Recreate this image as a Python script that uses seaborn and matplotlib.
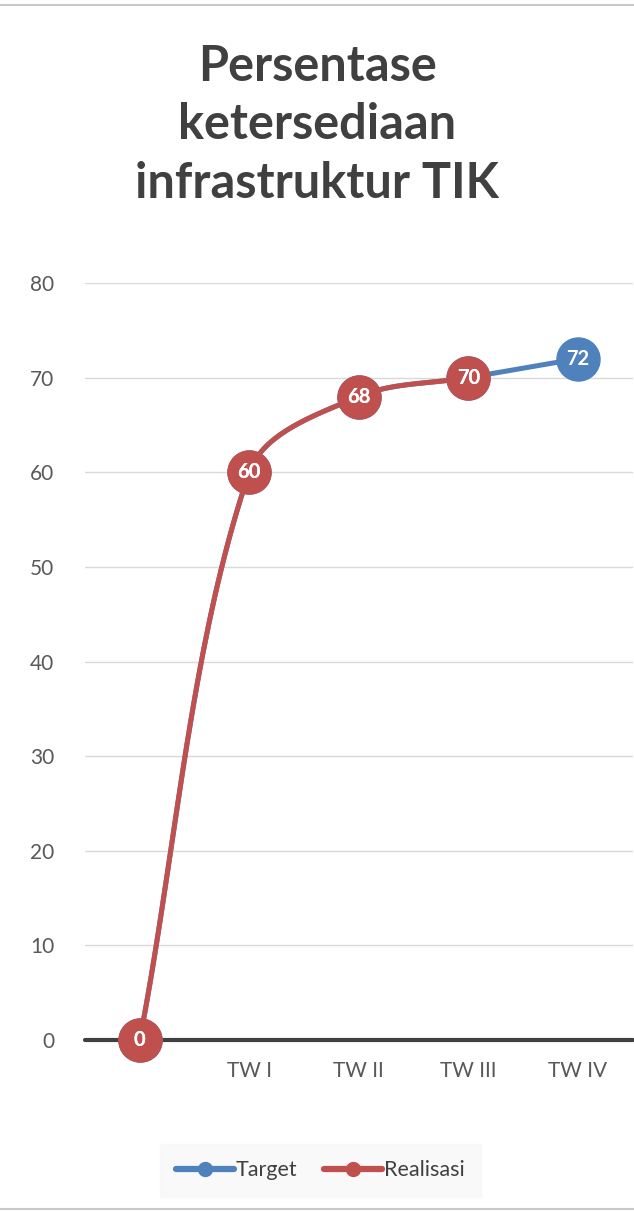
import numpy as np
import pandas as pd
import matplotlib
matplotlib.use("Agg")
import matplotlib.pyplot as plt
import seaborn as sns
from matplotlib.lines import Line2D

# data
categories = ["", "TW I", "TW II", "TW III", "TW IV"]
target = [0, 60, 68, 70, 72]
realisasi = [0, 60, 68, 70]

sns.set_theme(style="white")
plt.rcParams['font.family'] = ['Lato', 'DejaVu Sans']

blue = "#4f81bd"
red = "#c0504d"
grey_text = "#595959"


def smooth(xs, ys, sx=109.5, sy=9.46, n=40):
    # Excel-like smoothed line: bezier segments, control points scaled by
    # chord lengths (computed in screen-like units)
    px = np.array(xs, float) * sx
    py = np.array(ys, float) * sy
    pts = np.column_stack([px, py])
    m = len(pts)
    out = []
    for i in range(m - 1):
        p0 = pts[max(i - 1, 0)]
        p1 = pts[i]
        p2 = pts[i + 1]
        p3 = pts[min(i + 2, m - 1)]
        d01 = np.linalg.norm(p1 - p0)
        d12 = np.linalg.norm(p2 - p1)
        d23 = np.linalg.norm(p3 - p2)
        c1 = p1 + (p2 - p0) * d12 / (d01 + d12) / 3
        c2 = p2 - (p3 - p1) * d12 / (d12 + d23) / 3
        t = np.linspace(0, 1, n)[:, None]
        b = ((1 - t) ** 3) * p1 + 3 * ((1 - t) ** 2) * t * c1 + 3 * (1 - t) * t ** 2 * c2 + t ** 3 * p2
        out.append(b)
    out = np.vstack(out)
    return out[:, 0] / sx, out[:, 1] / sy


fig = plt.figure(figsize=(6.34, 12.11), dpi=100)
ax = fig.add_axes([0.134, 0.1412, 0.864, 0.6251])

for vals, col, name in [(target, blue, "Target"), (realisasi, red, "Realisasi")]:
    idx = list(range(len(vals)))
    sx, sy = smooth(idx, vals)
    sns.lineplot(x=sx, y=sy, ax=ax, color=col, lw=3.6, sort=False, zorder=3)
    df = pd.DataFrame({"x": idx, "y": vals})
    ax.plot(df["x"], df["y"], ls="none", marker="o", ms=31, color=col, zorder=4,
            clip_on=False)
    for x, y in zip(idx, vals):
        ax.text(x, y, str(y), ha="center", va="center", color="white",
                fontsize=14.5, fontweight="bold", zorder=5)

for ln in ax.lines:
    ln.set_clip_on(False)

ax.set_xlim(-0.5, 4.5)
ax.set_ylim(0, 80)
ax.set_yticks(range(0, 81, 10))
ax.set_xticks(range(len(categories)))
ax.set_xticklabels(categories)
ax.grid(axis="y", color="#d9d9d9", lw=1)
ax.set_axisbelow(True)
ax.axhline(0, color="#404040", lw=3, zorder=2, clip_on=False)
for s in ax.spines.values():
    s.set_visible(False)
ax.tick_params(axis="both", length=0, labelsize=15, labelcolor=grey_text)
ax.tick_params(axis="y", pad=22)
ax.tick_params(axis="x", pad=15)

fig.text(0.5, 0.897, "Persentase\nketersediaan\ninfrastruktur TIK", ha="center", va="center",
         fontsize=35, fontweight="bold", color="#404040", linespacing=1.36)

handles = [Line2D([0], [0], color=blue, lw=4.5, marker="o", ms=10),
           Line2D([0], [0], color=red, lw=4.5, marker="o", ms=10)]
leg = fig.legend(handles, ["Target", "Realisasi"], loc="center", bbox_to_anchor=(0.505, 0.0335),
                 ncol=2, frameon=True, fontsize=15.5, handlelength=2.7, handletextpad=0.1,
                 columnspacing=1.2, labelcolor="#404040")
leg.get_frame().set_facecolor("#f8f8f8")
leg.get_frame().set_edgecolor("#f8f8f8")
leg.get_frame().set_boxstyle("square", pad=0.35)

fig.add_artist(Line2D([0, 1], [0.9958, 0.9958], color="#c8c8c8", lw=1.5))
fig.add_artist(Line2D([0, 1], [0.0015, 0.0015], color="#c8c8c8", lw=1.5))

fig.savefig("out.png", dpi=100)
